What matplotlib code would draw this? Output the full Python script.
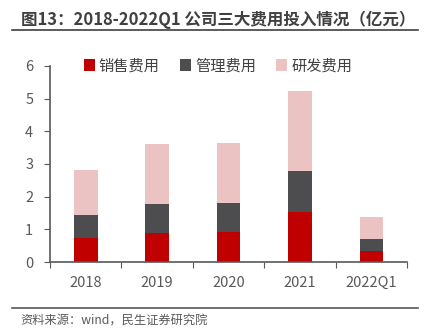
import matplotlib
matplotlib.use("Agg")
import matplotlib.pyplot as plt
import numpy as np

plt.rcParams['font.family'] = ['Noto Sans CJK SC', 'DejaVu Sans']

categories = ["2018", "2019", "2020", "2021", "2022Q1"]
sales = [0.73, 0.88, 0.93, 1.54, 0.33]
admin = [0.70, 0.90, 0.89, 1.25, 0.37]
rnd = [1.38, 1.82, 1.83, 2.44, 0.69]
series_names = ["销售费用", "管理费用", "研发费用"]
colors = ["#C00000", "#4D4D4F", "#EBC3C3"]

fig = plt.figure(figsize=(4.24, 3.36), dpi=100)
ax = fig.add_axes([0.118, 0.22, 0.842, 0.584])

x = np.arange(len(categories))
w = 0.33
b1 = np.array(sales)
b2 = b1 + np.array(admin)
ax.bar(x, sales, w, color=colors[0], label=series_names[0])
ax.bar(x, admin, w, bottom=b1, color=colors[1], label=series_names[1])
ax.bar(x, rnd, w, bottom=b2, color=colors[2], label=series_names[2])

ax.set_xlim(-0.5, len(categories) - 0.5)
ax.set_ylim(0, 6)
ax.set_yticks(range(0, 7))
ax.set_xticks(np.arange(-0.5, len(categories), 1.0))
ax.set_xticklabels([])
ax.set_xticks(x, minor=True)
ax.set_xticklabels(categories, minor=True)
ax.tick_params(axis='x', which='minor', length=0, pad=10, labelsize=10.5, labelcolor='#595959')
ax.tick_params(axis='x', which='major', length=4, color='#595959', direction='out')
ax.tick_params(axis='y', length=4, color='#595959', labelsize=10.5, labelcolor='#595959', pad=8)
for s in ['top', 'right']:
    ax.spines[s].set_visible(False)
for s in ['left', 'bottom']:
    ax.spines[s].set_color('#595959')
    ax.spines[s].set_linewidth(1.2)

leg = ax.legend(loc='center', bbox_to_anchor=(0.47, 1.0), ncol=3, frameon=False,
                fontsize=11, handlelength=0.75, handleheight=0.75, handletextpad=0.25,
                columnspacing=1.3, borderaxespad=0)
for t in leg.get_texts():
    t.set_color('#404040')

fig.text(0.05, 0.94, "图13：2018-2022Q1 公司三大费用投入情况（亿元）", fontsize=11.9,
         fontweight='bold', color='#404040', va='center', ha='left')
fig.add_artist(plt.Line2D([0.028, 0.986], [0.910, 0.910], color='#404040', lw=1.2,
                          transform=fig.transFigure))
fig.add_artist(plt.Line2D([0.028, 0.986], [0.083, 0.083], color='#595959', lw=1.2,
                          transform=fig.transFigure))
fig.text(0.047, 0.045, "资料来源：wind，民生证券研究院", fontsize=8.8, color='#595959',
         va='center', ha='left')

fig.savefig("out.png", dpi=100)
